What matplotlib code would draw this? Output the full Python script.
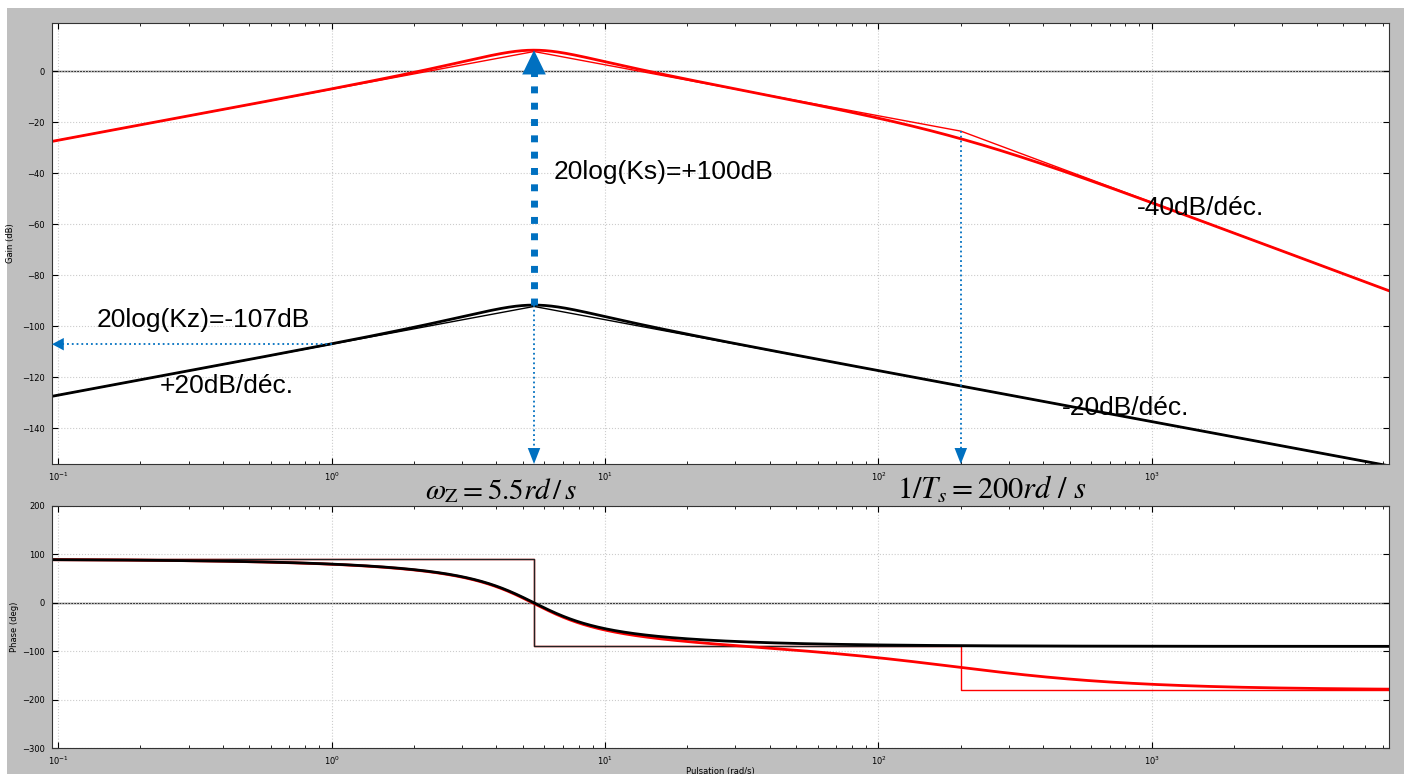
import numpy as np
import matplotlib
matplotlib.use("Agg")
import matplotlib.pyplot as plt
from matplotlib.patches import Rectangle

# transfer function parameters (gains in dB, pulsations in rad/s)
KZ_DB = -107.0
KS_DB = 100.0
WZ = 5.5
WS = 200.0
ZETA = 0.47
W_MIN, W_MAX = 0.095, 7360.0

GAIN_TICKS = [-140, -120, -100, -80, -60, -40, -20, 0]
PHASE_TICKS = [-300, -200, -100, 0, 100, 200]

BLUE = "#0070c0"
TXT_FONT = ["Liberation Sans", "DejaVu Sans"]

w = np.logspace(np.log10(W_MIN), np.log10(W_MAX), 3000)
w = np.sort(np.concatenate([w, [WZ, WS]]))
s = 1j * w
kz = 10 ** (KZ_DB / 20)
ks = 10 ** (KS_DB / 20)
hz = kz * s / (1 + 2 * ZETA * s / WZ + (s / WZ) ** 2)
hs = ks * hz / (1 + s / WS)

gz = 20 * np.log10(np.abs(hz))
gs = 20 * np.log10(np.abs(hs))
pz = np.degrees(np.angle(hz))
ps = np.degrees(np.angle(hs))

# straight-line asymptotes
az = KZ_DB + 20 * np.log10(w) - 40 * np.log10(np.maximum(w / WZ, 1))
a_s = az + KS_DB - 20 * np.log10(np.maximum(w / WS, 1))
pz_x = [W_MIN, WZ, WZ, W_MAX]
pz_y = [90, 90, -90, -90]
ps_x = [W_MIN, WZ, WZ, WS, WS, W_MAX]
ps_y = [90, 90, -90, -90, -180, -180]

fig = plt.figure(figsize=(14.1, 7.74), dpi=100)
fig.patch.set_facecolor("white")
fig.add_artist(Rectangle((7 / 1410, 0), 1397 / 1410, 766 / 774,
                         transform=fig.transFigure, facecolor="#bfbfbf",
                         edgecolor="none", zorder=-10))

ax1 = fig.add_axes([52 / 1410, 1 - 464 / 774, 1337 / 1410, 441 / 774])
ax2 = fig.add_axes([52 / 1410, 1 - 748 / 774, 1337 / 1410, 242 / 774])

for ax in (ax1, ax2):
    ax.set_xscale("log")
    ax.set_xlim(W_MIN, W_MAX)
    ax.grid(True, which="major", color="#cccccc", linestyle=":", linewidth=0.8)
    ax.axhline(0, color="#333333", linewidth=1.0, zorder=1)
    ax.tick_params(which="both", direction="in", top=True, right=True,
                   labelsize=6, pad=5)
    ax.tick_params(which="major", length=4)
    ax.tick_params(which="minor", length=2)
    for sp in ax.spines.values():
        sp.set_color("#333333")

# gain
ax1.plot(w, az, color="black", linewidth=1.0)
ax1.plot(w, a_s, color="red", linewidth=1.0)
ax1.plot(w, gz, color="black", linewidth=2.0)
ax1.plot(w, gs, color="red", linewidth=2.0)
ax1.set_ylim(-154, 19)
ax1.set_yticks(GAIN_TICKS)
ax1.set_ylabel("Gain (dB)", fontsize=6, labelpad=5)

# phase
ax2.plot(ps_x, ps_y, color="red", linewidth=1.0)
ax2.plot(pz_x, pz_y, color="#222222", linewidth=1.0)
ax2.plot(w, ps, color="red", linewidth=2.0)
ax2.plot(w, pz, color="black", linewidth=2.0)
ax2.set_ylim(-300, 200)
ax2.set_yticks(PHASE_TICKS)
ax2.set_ylabel("Phase (deg)", fontsize=6, labelpad=2)
ax2.set_xlabel("Pulsation (rad/s)", fontsize=6, labelpad=0)


def head(ax, xy, off, hl, hw):
    ax.annotate("", xy=xy, xytext=off, textcoords="offset points",
                annotation_clip=False,
                arrowprops=dict(arrowstyle=f"-|>,head_length={hl},head_width={hw}",
                                color=BLUE, lw=0, shrinkA=0, shrinkB=0,
                                mutation_scale=10))


# peaks at wz
pk_z = KZ_DB + 20 * np.log10(WZ) - 20 * np.log10(2 * ZETA)
pk_s = pk_z + KS_DB - 10 * np.log10(1 + (WZ / WS) ** 2)
ybot = ax1.get_ylim()[0]

# thick dotted arrow: +KS_DB between the two curves
ax1.plot([WZ, WZ], [pk_z, pk_s - 9.0], color=BLUE, linewidth=5,
         linestyle=(0, (1, 1.35)), dash_capstyle="butt", zorder=5)
head(ax1, (WZ, pk_s), (0, -20), 1.75, 0.85)

# thin dotted markers down to the pulsation axis
ax1.plot([WZ, WZ], [pk_z, ybot + 5], color=BLUE, linewidth=1.3,
         linestyle=":", zorder=5)
head(ax1, (WZ, ybot), (0, 14), 1.15, 0.45)
brk = KZ_DB + KS_DB + 20 * np.log10(WZ) - 20 * np.log10(WS / WZ)
ax1.plot([WS, WS], [brk, ybot + 5], color=BLUE, linewidth=1.3,
         linestyle=":", zorder=5)
head(ax1, (WS, ybot), (0, 14), 1.15, 0.45)

# horizontal marker at 20log(Kz)
ax1.plot([1.0, W_MIN * 1.06], [KZ_DB, KZ_DB], color=BLUE, linewidth=1.3,
         linestyle=":", zorder=5)
head(ax1, (W_MIN, KZ_DB), (10, 0), 0.85, 0.45)

ax1.text(6.5, -39.3, "20log(Ks)=+100dB", fontsize=19, family=TXT_FONT,
         va="center", ha="left")
ax1.text(0.138, -97.4, "20log(Kz)=-107dB", fontsize=19, family=TXT_FONT,
         va="center", ha="left")
ax1.text(0.236, -123.3, "+20dB/déc.", fontsize=19, family=TXT_FONT,
         va="center", ha="left")
ax1.text(881, -53.5, "-40dB/déc.", fontsize=19, family=TXT_FONT,
         va="center", ha="left")
ax1.text(469, -131.9, "-20dB/déc.", fontsize=19, family=TXT_FONT,
         va="center", ha="left")

fig.text(425 / 1410, 1 - 491 / 774, r"$\omega_{\mathrm{Z}}=5.5rd\,/\,s$",
         fontsize=21, math_fontfamily="stix", va="center", ha="left")
fig.text(897 / 1410, 1 - 489 / 774, r"$1/T_s=200rd\ /\ s$",
         fontsize=22, math_fontfamily="stix", va="center", ha="left")

fig.savefig("out.png", dpi=100)
